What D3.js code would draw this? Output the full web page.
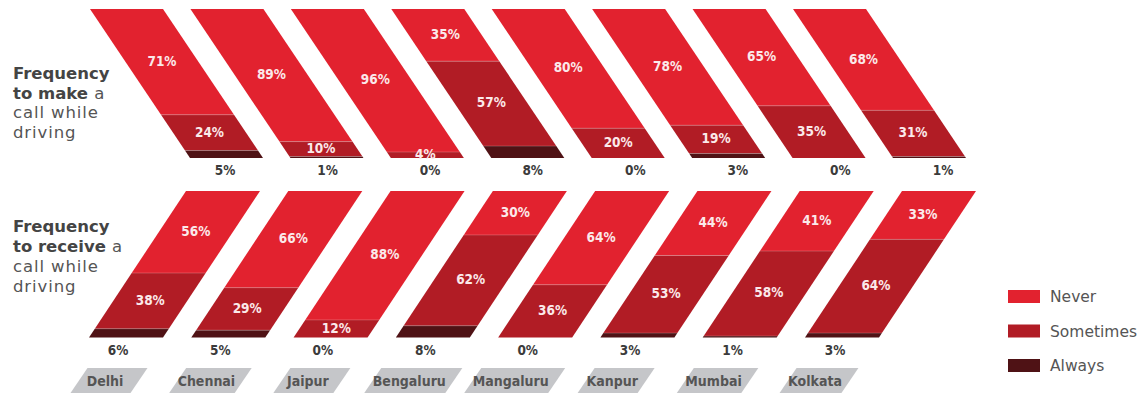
<!DOCTYPE html>
<html>
<head>
<meta charset="utf-8">
<script src="https://cdn.jsdelivr.net/npm/d3@7/dist/d3.min.js"></script>
<style>
  html, body { margin: 0; padding: 0; background: #fff; }
  svg { display: block; }
</style>
</head>
<body>
<svg id="chart" width="1141" height="394"></svg>
<script>
// Cities (one slanted bar per city in each panel)
const cities = ["Delhi", "Chennai", "Jaipur", "Bengaluru", "Mangaluru", "Kanpur", "Mumbai", "Kolkata"];
const categories = ["Never", "Sometimes", "Always"];
const categoryColors = ["#e2222f", "#b11c25", "#4f1215"];

// Frequency to make a call while driving (%)
const makeNever     = [71, 89, 96, 35, 80, 78, 65, 68];
const makeSometimes = [24, 10,  4, 57, 20, 19, 35, 31];
const makeAlways    = [ 5,  1,  0,  8,  0,  3,  0,  1];

// Frequency to receive a call while driving (%)
const receiveNever     = [56, 66, 88, 30, 64, 44, 41, 33];
const receiveSometimes = [38, 29, 12, 62, 36, 53, 58, 64];
const receiveAlways    = [ 6,  5,  0,  8,  0,  3,  1,  3];

const svg = d3.select("#chart");
const labelFont = "'DejaVu Sans Condensed', 'Liberation Sans Narrow', 'DejaVu Sans', sans-serif";
const textFont = "'DejaVu Sans', sans-serif";

function buildStacks(never, sometimes, always) {
  return cities.map((city, i) => {
    const vals = [never[i], sometimes[i], always[i]];
    let acc = 0;
    return vals.map((v, k) => {
      const seg = { city, index: i, cat: k, value: v, v0: acc, v1: acc + v };
      acc += v;
      return seg;
    });
  });
}

// Draws one panel of slanted stacked bars.
// anchorY: y at which xBar gives the bar's left edge; skew: horizontal shift per pixel of y.
function drawPanel(cfg) {
  const g = svg.append("g");
  const stacks = buildStacks(cfg.never, cfg.sometimes, cfg.always);
  const leftAt = (city, y) => cfg.xBar(city) + (y - cfg.anchorY) * cfg.skew;

  const bars = g.selectAll("g.bar").data(stacks).join("g").attr("class", "bar");

  bars.selectAll("polygon")
    .data(d => d.filter(s => s.value > 0))
    .join("polygon")
    .attr("fill", s => categoryColors[s.cat])
    .attr("points", s => {
      const y0 = cfg.y(s.v0), y1 = cfg.y(s.v1);
      const a = leftAt(s.city, y0), b = leftAt(s.city, y1);
      return [[a, y0], [a + cfg.barW, y0], [b + cfg.barW, y1], [b, y1]].map(p => p.join(",")).join(" ");
    });

  // thin light seam between segments
  bars.selectAll("line.seam")
    .data(d => d.filter(s => s.cat > 0 && s.value > 0))
    .join("line")
    .attr("class", "seam")
    .attr("x1", s => leftAt(s.city, cfg.y(s.v0)))
    .attr("x2", s => leftAt(s.city, cfg.y(s.v0)) + cfg.barW)
    .attr("y1", s => cfg.y(s.v0))
    .attr("y2", s => cfg.y(s.v0))
    .attr("stroke", "rgba(255,255,255,0.28)")
    .attr("stroke-width", 0.8);

  // values for Never and Sometimes inside the bar
  bars.selectAll("text.inner")
    .data(d => d.filter(s => s.cat < 2 && s.value > 0))
    .join("text")
    .attr("class", "inner")
    .attr("x", s => leftAt(s.city, (cfg.y(s.v0) + cfg.y(s.v1)) / 2) + cfg.barW / 2)
    .attr("y", s => (cfg.y(s.v0) + cfg.y(s.v1)) / 2 - 1)
    .attr("dy", "0.36em")
    .attr("text-anchor", "middle")
    .attr("fill", "#fbe9ea")
    .attr("font-family", labelFont)
    .attr("font-weight", "bold")
    .attr("font-size", 13.5)
    .text(s => s.value + "%");

  // Always value under each bar
  g.selectAll("text.always")
    .data(stacks.map(st => st[2]))
    .join("text")
    .attr("class", "always")
    .attr("x", s => cfg.xAlways(s.city))
    .attr("y", cfg.alwaysY)
    .attr("dy", "0.36em")
    .attr("text-anchor", "middle")
    .attr("fill", "#3b3b3b")
    .attr("font-family", labelFont)
    .attr("font-weight", "bold")
    .attr("font-size", 13.5)
    .text(s => s.value + "%");

  // Panel title on the left
  const title = g.append("text")
    .attr("font-family", textFont)
    .attr("font-size", 16.5)
    .attr("fill", "#4a4a4a");
  cfg.title.forEach((line, li) => {
    line.forEach((part, pi) => {
      const t = title.append("tspan").text(part.text)
        .attr("font-weight", part.bold ? "bold" : "normal")
        .attr("letter-spacing", part.bold ? 0 : 0.9)
        .attr("fill", part.bold ? "#444" : "#555");
      if (pi === 0) t.attr("x", 13).attr("y", cfg.titleY + li * cfg.titleLead);
    });
  });
}

drawPanel({
  never: makeNever, sometimes: makeSometimes, always: makeAlways,
  y: d3.scaleLinear().domain([0, 100]).range([9, 158]),
  xBar: d3.scalePoint().domain(cities).range([90, 793]),
  anchorY: 9, skew: 100 / 149, barW: 73,
  xAlways: d3.scalePoint().domain(cities).range([225, 943]),
  alwaysY: 170,
  title: [
    [{ text: "Frequency", bold: true }],
    [{ text: "to make", bold: true }, { text: " a", bold: false }],
    [{ text: "call while", bold: false }],
    [{ text: "driving", bold: false }]
  ],
  titleY: 79, titleLead: 19.5
});

drawPanel({
  never: receiveNever, sometimes: receiveSometimes, always: receiveAlways,
  y: d3.scaleLinear().domain([0, 100]).range([191, 337.5]),
  xBar: d3.scalePoint().domain(cities).range([89, 805]),
  anchorY: 337.5, skew: -97 / 146.5, barW: 74,
  xAlways: d3.scalePoint().domain(cities).range([118, 835]),
  alwaysY: 350,
  title: [
    [{ text: "Frequency", bold: true }],
    [{ text: "to receive", bold: true }, { text: " a", bold: false }],
    [{ text: "call while", bold: false }],
    [{ text: "driving", bold: false }]
  ],
  titleY: 232, titleLead: 20
});

// City tags along the bottom
const xCity = d3.scalePoint().domain(cities).range([105, 815]);
const tagTop = 368, tagBottom = 393, tagSkew = 17;
const tags = svg.append("g").selectAll("g").data(cities).join("g");
tags.append("text")
  .attr("x", d => xCity(d))
  .attr("y", (tagTop + tagBottom) / 2)
  .attr("dy", "0.36em")
  .attr("text-anchor", "middle")
  .attr("fill", "#555")
  .attr("font-family", labelFont)
  .attr("font-weight", "bold")
  .attr("font-size", 14)
  .text(d => d);
tags.insert("polygon", "text")
  .attr("fill", "#c5c6c9")
  .attr("points", function(d) {
    const w = Math.max(60, this.parentNode.querySelector("text").getComputedTextLength() + 8);
    const cx = xCity(d) + 4;
    const l = cx - w / 2, r = cx + w / 2, h = tagSkew / 2;
    return [[l + h, tagTop], [r + h, tagTop], [r - h, tagBottom], [l - h, tagBottom]].map(p => p.join(",")).join(" ");
  });

// Legend
const legend = svg.append("g").selectAll("g").data(categories).join("g")
  .attr("transform", (d, i) => `translate(1008, ${290 + i * 34.5})`);
legend.append("rect")
  .attr("width", 32).attr("height", 13)
  .attr("fill", (d, i) => categoryColors[i]);
legend.append("text")
  .attr("x", 42).attr("y", 12)
  .attr("font-family", textFont)
  .attr("font-size", 15.5)
  .attr("fill", "#555")
  .text(d => d);
</script>
</body>
</html>
